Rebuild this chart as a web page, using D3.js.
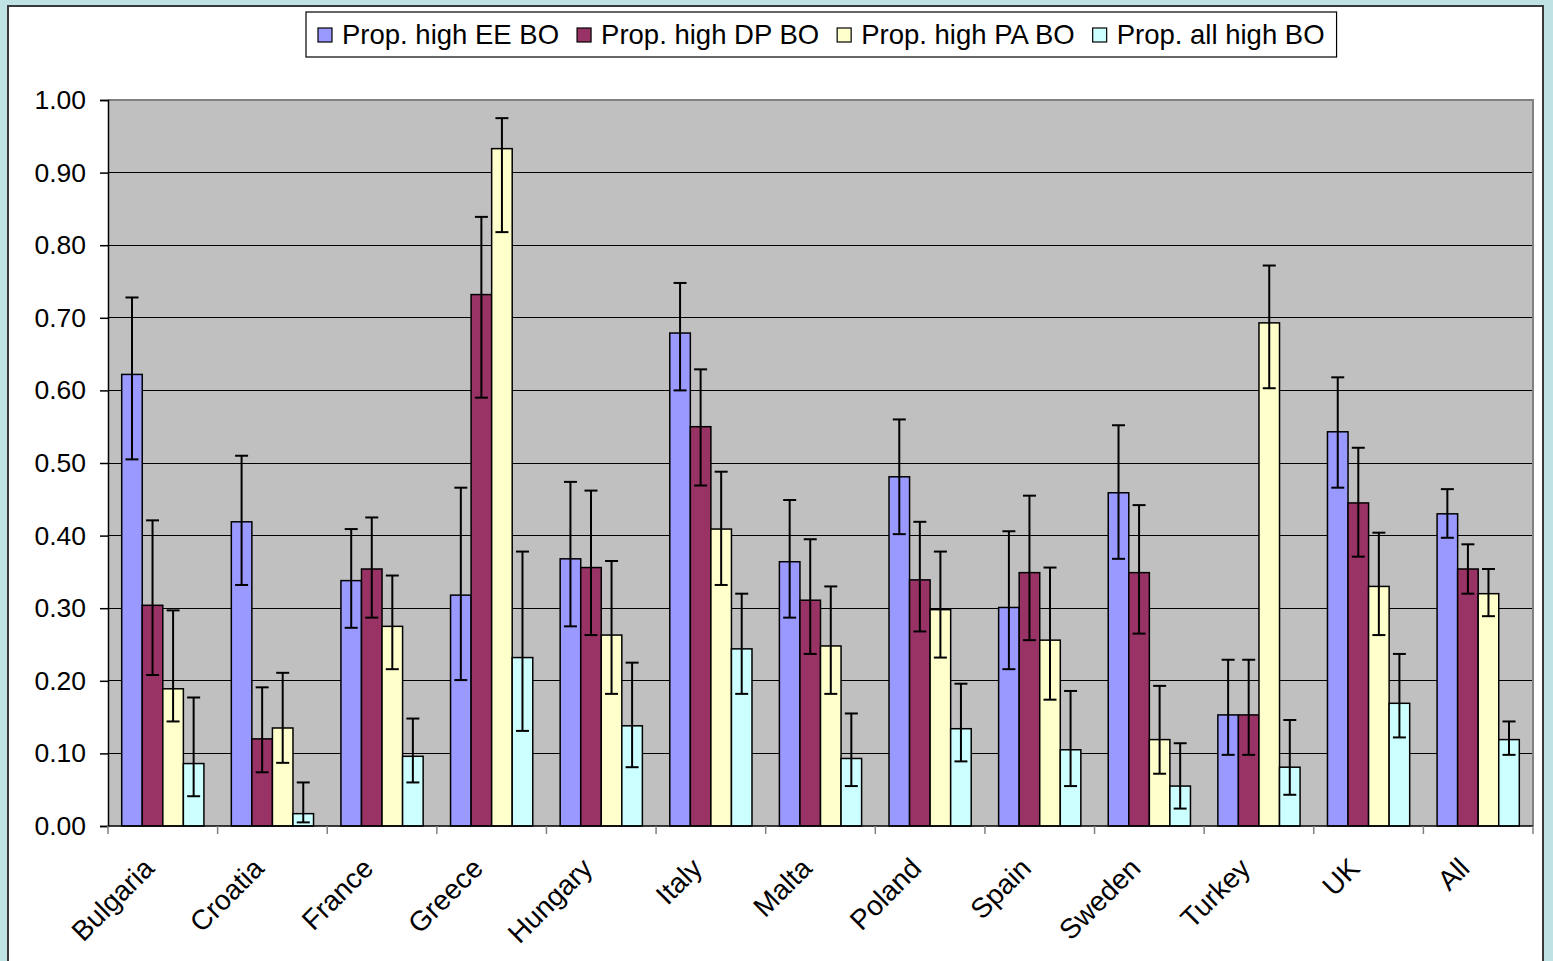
<!DOCTYPE html>
<html>
<head>
<meta charset="utf-8">
<script src="https://cdn.jsdelivr.net/npm/d3@7/dist/d3.min.js"></script>
<style>
  html, body { margin: 0; padding: 0; background: #bfe2e5; }
  svg { display: block; }
  text { font-family: "Liberation Sans", Arial, sans-serif; fill: #000; }
</style>
</head>
<body>
<svg id="chart" width="1553" height="961"></svg>
<script>
// ---- data ----
const categories = ["Bulgaria","Croatia","France","Greece","Hungary","Italy","Malta","Poland","Spain","Sweden","Turkey","UK","All"];
const seriesNames = ["Prop. high EE BO","Prop. high DP BO","Prop. high PA BO","Prop. all high BO"];
const seriesColors = ["#9999ff","#993366","#ffffcc","#ccffff"];

const eeValues = [0.622,0.419,0.338,0.318,0.368,0.679,0.364,0.481,0.301,0.459,0.153,0.543,0.430];
const eeLower  = [0.505,0.332,0.273,0.201,0.275,0.600,0.287,0.402,0.216,0.368,0.098,0.466,0.397];
const eeUpper  = [0.728,0.510,0.409,0.466,0.474,0.748,0.449,0.560,0.406,0.552,0.229,0.618,0.464];

const dpValues = [0.304,0.120,0.354,0.732,0.356,0.550,0.311,0.339,0.349,0.349,0.153,0.445,0.354];
const dpLower  = [0.208,0.074,0.287,0.590,0.263,0.469,0.237,0.268,0.256,0.265,0.098,0.371,0.320];
const dpUpper  = [0.421,0.191,0.425,0.839,0.462,0.629,0.395,0.419,0.455,0.442,0.229,0.521,0.388];

const paValues = [0.189,0.135,0.275,0.933,0.263,0.409,0.248,0.298,0.256,0.119,0.693,0.330,0.320];
const paLower  = [0.144,0.087,0.216,0.818,0.182,0.332,0.182,0.232,0.174,0.072,0.603,0.263,0.289];
const paUpper  = [0.297,0.211,0.345,0.975,0.365,0.488,0.330,0.378,0.356,0.193,0.772,0.404,0.354];

const allValues = [0.086,0.017,0.096,0.232,0.138,0.244,0.093,0.134,0.105,0.055,0.081,0.169,0.119];
const allLower  = [0.041,0.005,0.060,0.131,0.081,0.182,0.055,0.089,0.055,0.024,0.043,0.122,0.098];
const allUpper  = [0.177,0.060,0.148,0.378,0.225,0.320,0.155,0.196,0.186,0.114,0.146,0.237,0.144];

const yTicks = [0,0.1,0.2,0.3,0.4,0.5,0.6,0.7,0.8,0.9,1.0];

const seriesData = [
  {values: eeValues, lower: eeLower, upper: eeUpper},
  {values: dpValues, lower: dpLower, upper: dpUpper},
  {values: paValues, lower: paLower, upper: paUpper},
  {values: allValues, lower: allLower, upper: allUpper}
];

// ---- layout ----
const svg = d3.select("#chart");
const plot = {left: 108, right: 1533, top: 100, bottom: 826};

// chart area
svg.append("rect").attr("x", 8).attr("y", 6).attr("width", 1535).attr("height", 990)
  .attr("fill", "#ffffff").attr("stroke", "#3a3a3a").attr("stroke-width", 2);

const x0 = d3.scaleBand().domain(categories).range([plot.left, plot.right]);
const bw = x0.bandwidth();
const gap = bw * 0.25;
const x1 = d3.scaleBand().domain(d3.range(seriesNames.length)).range([gap/2, bw - gap/2]);
const y = d3.scaleLinear().domain([0, 1]).range([plot.bottom, plot.top]);

// plot background
svg.append("rect").attr("x", plot.left).attr("y", plot.top)
  .attr("width", plot.right - plot.left).attr("height", plot.bottom - plot.top)
  .attr("fill", "#c0c0c0");

// gridlines
svg.append("g").selectAll("line").data(yTicks.filter(t => t > 0 && t < 1)).join("line")
  .attr("x1", plot.left).attr("x2", plot.right)
  .attr("y1", d => y(d)).attr("y2", d => y(d))
  .attr("stroke", "#000").attr("stroke-width", 1).attr("shape-rendering", "crispEdges");

// plot border top/right
svg.append("path")
  .attr("d", `M${plot.left},${plot.top}H${plot.right}V${plot.bottom}`)
  .attr("fill", "none").attr("stroke", "#808080").attr("stroke-width", 2);

// bars
const groups = svg.append("g").selectAll("g").data(seriesData).join("g");
groups.each(function(s, si) {
  const g = d3.select(this);
  g.selectAll("rect").data(categories).join("rect")
    .attr("x", c => x0(c) + x1(si))
    .attr("width", x1.bandwidth())
    .attr("y", (c, i) => y(s.values[i]))
    .attr("height", (c, i) => y(0) - y(s.values[i]))
    .attr("fill", seriesColors[si])
    .attr("stroke", "#000").attr("stroke-width", 1.5);
});

// error bars
groups.each(function(s, si) {
  const g = d3.select(this);
  const eb = g.selectAll("g.eb").data(categories).join("g").attr("class", "eb");
  const cxf = c => x0(c) + x1(si) + x1.bandwidth()/2;
  const cap = 6.5;
  eb.append("line")
    .attr("x1", cxf).attr("x2", cxf)
    .attr("y1", (c, i) => y(s.lower[i])).attr("y2", (c, i) => y(s.upper[i]))
    .attr("stroke", "#000").attr("stroke-width", 2);
  eb.append("line")
    .attr("x1", c => cxf(c) - cap).attr("x2", c => cxf(c) + cap)
    .attr("y1", (c, i) => y(s.upper[i])).attr("y2", (c, i) => y(s.upper[i]))
    .attr("stroke", "#000").attr("stroke-width", 2);
  eb.append("line")
    .attr("x1", c => cxf(c) - cap).attr("x2", c => cxf(c) + cap)
    .attr("y1", (c, i) => y(s.lower[i])).attr("y2", (c, i) => y(s.lower[i]))
    .attr("stroke", "#000").attr("stroke-width", 2);
});

// y axis
const yAxis = d3.axisLeft(y).tickValues(yTicks).tickFormat(d3.format(".2f")).tickSize(8).tickPadding(14);
const yg = svg.append("g").attr("transform", `translate(${plot.left},0)`).call(yAxis);
yg.select(".domain").attr("stroke", "#000").attr("stroke-width", 1.5);
yg.selectAll(".tick line").attr("stroke", "#000").attr("stroke-width", 1.5);
yg.selectAll(".tick text").attr("font-size", 26.5).attr("font-family", "Liberation Sans, Arial, sans-serif").attr("fill", "#000");

// x axis baseline + ticks at band boundaries
svg.append("line").attr("x1", plot.left).attr("x2", plot.right)
  .attr("y1", plot.bottom).attr("y2", plot.bottom).attr("stroke", "#000").attr("stroke-width", 1.5);
const boundaries = categories.map(c => x0(c)).concat([x0(categories[categories.length-1]) + bw]);
svg.append("g").selectAll("line").data(boundaries).join("line")
  .attr("x1", d => d).attr("x2", d => d)
  .attr("y1", plot.bottom).attr("y2", plot.bottom + 8)
  .attr("stroke", "#808080").attr("stroke-width", 1.5);

// x labels
svg.append("g").selectAll("text").data(categories).join("text")
  .attr("transform", c => `translate(${x0(c) + bw/2 - 7},870) rotate(-45)`)
  .attr("text-anchor", "end")
  .attr("font-size", 28)
  .text(c => c);

// legend
const leg = svg.append("g");
const legBox = leg.append("rect").attr("x", 306).attr("y", 12).attr("height", 45)
  .attr("fill", "#fff").attr("stroke", "#000").attr("stroke-width", 1.2);
let lx = 318;
seriesNames.forEach((name, i) => {
  leg.append("rect").attr("x", lx).attr("y", 28).attr("width", 14).attr("height", 14)
    .attr("fill", seriesColors[i]).attr("stroke", "#000").attr("stroke-width", 1.2);
  const t = leg.append("text").attr("x", lx + 24).attr("y", 44).attr("font-size", 27.5).text(name);
  const len = t.node().getComputedTextLength();
  lx += 24 + len + 18;
});
legBox.attr("width", lx - 306 - 6);
</script>
</body>
</html>
